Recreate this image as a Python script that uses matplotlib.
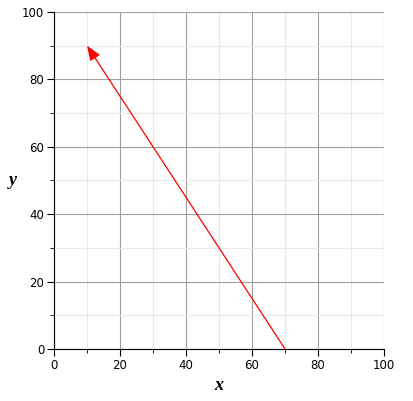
import matplotlib
matplotlib.use('Agg')
import matplotlib.pyplot as plt

# arrow start and end (data units)
start = [70, 0]
end = [10, 90]
major_ticks = [0, 20, 40, 60, 80, 100]
minor_ticks = [10, 30, 50, 70, 90]

fig = plt.figure(figsize=(4.13, 4.01), dpi=100)
ax = fig.add_axes([0.1308, 0.1297, 0.799, 0.8405])

ax.set_xlim(0, 100)
ax.set_ylim(0, 100)
ax.set_xticks(major_ticks)
ax.set_yticks(major_ticks)
ax.set_xticks(minor_ticks, minor=True)
ax.set_yticks(minor_ticks, minor=True)

ax.grid(True, which='major', color='#a0a0a0', linewidth=0.8)
ax.grid(True, which='minor', color='#e8e8e8', linewidth=0.8)
ax.set_axisbelow(True)

ax.spines['top'].set_visible(False)
ax.spines['right'].set_visible(False)
ax.tick_params(which='major', direction='out', length=5, labelsize=8.5, pad=2)
ax.tick_params(which='minor', direction='out', length=3)

ax.annotate('', xy=end, xytext=start,
            arrowprops=dict(arrowstyle='-|>,head_length=0.9,head_width=0.35',
                            color='red', lw=0.9, shrinkA=0, shrinkB=0))

ax.set_xlabel('x', fontsize=13, fontweight='bold', fontstyle='italic',
              family='Liberation Serif', labelpad=4)
ax.set_ylabel('y', fontsize=13, fontweight='bold', fontstyle='italic',
              family='Liberation Serif', rotation=0, labelpad=7, va='center')

fig.savefig('out.png', dpi=100)
